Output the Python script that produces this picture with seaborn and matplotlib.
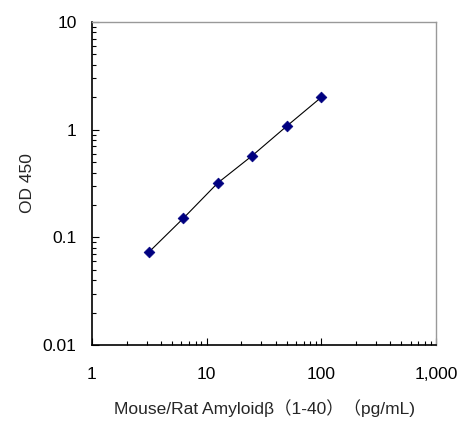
import matplotlib
matplotlib.use("Agg")
import matplotlib.pyplot as plt
import seaborn as sns
import pandas as pd
from matplotlib.ticker import LogLocator, NullFormatter, FixedLocator, FixedFormatter

conc = [3.125, 6.25, 12.5, 25, 50, 100]
od = [0.0727, 0.150, 0.320, 0.574, 1.08, 2.0]
xticks = [1, 10, 100, 1000]
xtick_labels = ["1", "10", "100", "1,000"]
yticks = [0.01, 0.1, 1, 10]
ytick_labels = ["0.01", "0.1", "1", "10"]

sns.set_style("white")
plt.rcParams['font.family'] = ['Liberation Sans', 'Noto Sans CJK JP', 'DejaVu Sans']

df = pd.DataFrame({"conc": conc, "od": od})

fig = plt.figure(figsize=(4.59, 4.21), dpi=100)
ax = fig.add_axes([92/459, 1-345/421, (436-92)/459, (345-22)/421])

sns.lineplot(data=df, x="conc", y="od", ax=ax, color="black", linewidth=0.8)
sns.scatterplot(data=df, x="conc", y="od", ax=ax, marker="D", color="#000080",
                s=30, edgecolor="#000080", linewidth=0.5, zorder=3)

ax.set_xscale("log")
ax.set_yscale("log")
ax.set_xlim(1, 1000)
ax.set_ylim(0.01, 10)

ax.xaxis.set_major_locator(FixedLocator(xticks))
ax.xaxis.set_major_formatter(FixedFormatter(xtick_labels))
ax.yaxis.set_major_locator(FixedLocator(yticks))
ax.yaxis.set_major_formatter(FixedFormatter(ytick_labels))
ax.xaxis.set_minor_locator(LogLocator(base=10, subs=range(2, 10)))
ax.yaxis.set_minor_locator(LogLocator(base=10, subs=range(2, 10)))
ax.xaxis.set_minor_formatter(NullFormatter())
ax.yaxis.set_minor_formatter(NullFormatter())

ax.tick_params(axis="both", which="major", direction="in", length=5, width=0.8,
               labelsize=12.5, colors="black")
ax.tick_params(axis="both", which="minor", direction="in", length=3, width=0.8, colors="black")
ax.tick_params(axis="x", which="both", bottom=True, top=False, pad=16)
ax.tick_params(axis="y", which="both", left=True, right=False, pad=11)

for s in ["left", "bottom"]:
    ax.spines[s].set_color("black")
    ax.spines[s].set_linewidth(1.2)
for s in ["top", "right"]:
    ax.spines[s].set_color("#999999")
    ax.spines[s].set_linewidth(1.0)

ax.set_xlabel("Mouse/Rat Amyloidβ（1-40）（pg/mL)", fontsize=12.5, labelpad=12)
ax.set_ylabel("OD 450", fontsize=12.5, labelpad=6)

fig.savefig("out.png", dpi=100)
